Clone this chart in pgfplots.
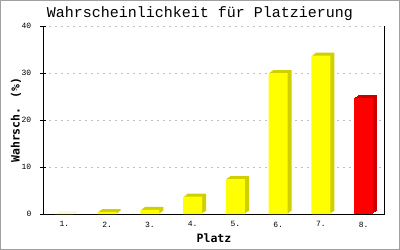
\documentclass[border=0pt]{standalone}
\usepackage{pgfplots}
\pgfplotsset{compat=1.18}
\usepackage{fontspec}
\setmonofont{Liberation Mono}
\newfontfamily\djm{DejaVu Sans Mono}
\definecolor{yfront}{HTML}{FFFF00}
\definecolor{yside}{HTML}{D0D000}
\definecolor{rfront}{HTML}{FF0000}
\definecolor{rside}{HTML}{CC0000}
\definecolor{gridc}{HTML}{C0C0C0}
\definecolor{framec}{HTML}{A0A0A0}
\pgfplotstableread{
x y
1 0
2 0.4
3 0.9
4 3.7
5 7.4
6 30.0
7 33.7
}\yellowdata
\pgfplotstableread{
x y
8 24.7
}\reddata
\begin{document}
\begin{tikzpicture}
\begin{axis}[
  scale only axis, width=342bp, height=188bp,
  xmin=0.5, xmax=8.5, ymin=0, ymax=40,
  xtick={1,...,8}, xticklabels={1.,2.,3.,4.,5.,6.,7.,8.},
  ytick={0,10,20,30,40},
  axis x line*=bottom, axis y line*=left,
  axis line style={black, line width=1bp, -},
  ymajorgrids, grid style={gridc, dash pattern=on 2bp off 4bp, line width=1bp},
  xtick style={draw=none},
  ytick style={black, line width=1bp},
  major tick length=7bp, tick align=center,
  /pgf/number format/assume math mode=true,
  ticklabel style={font=\ttfamily\fontsize{8bp}{8bp}\selectfont},
  yticklabel style={inner sep=0pt, xshift=-8bp},
  xticklabel style={inner sep=0pt, yshift=-4bp},
  xlabel={Platz}, ylabel={Wahrsch. (\%)},
  label style={font=\djm\bfseries\fontsize{11.5bp}{12bp}\selectfont},
  xlabel style={at={(axis description cs:0.5,-0.1505)}, anchor=base},
  ylabel style={at={(axis description cs:-0.0687,0.5)}, anchor=base},
  clip=false,
  every axis plot/.append style={ybar, bar width=19bp, draw=none},
]
\addplot[bar shift=4bp, yshift=3bp, fill=yside] table {\yellowdata};
\addplot[bar shift=2.7bp, yshift=2bp, fill=yside] table {\yellowdata};
\addplot[bar shift=1.3bp, yshift=1bp, fill=yside] table {\yellowdata};
\addplot[bar shift=0bp, fill=yfront] table {\yellowdata};
\addplot[bar shift=4bp, yshift=3bp, fill=rside] table {\reddata};
\addplot[bar shift=2.7bp, yshift=2bp, fill=rside] table {\reddata};
\addplot[bar shift=1.3bp, yshift=1bp, fill=rside] table {\reddata};
\addplot[bar shift=0bp, fill=rfront] table {\reddata};
\draw[black, line width=1bp] (rel axis cs:1,0) -- (rel axis cs:1,1);
\end{axis}
\node[anchor=base, font=\ttfamily\fontsize{15bp}{15bp}\selectfont] at (157bp,196.7bp) {Wahrscheinlichkeit für Platzierung};
\pgfresetboundingbox
\draw[framec, line width=1.5bp] (-42.25bp,-35.25bp) rectangle (356.25bp,213.25bp);
\useasboundingbox (-43bp,-36bp) rectangle (357bp,214bp);
\end{tikzpicture}
\end{document}
